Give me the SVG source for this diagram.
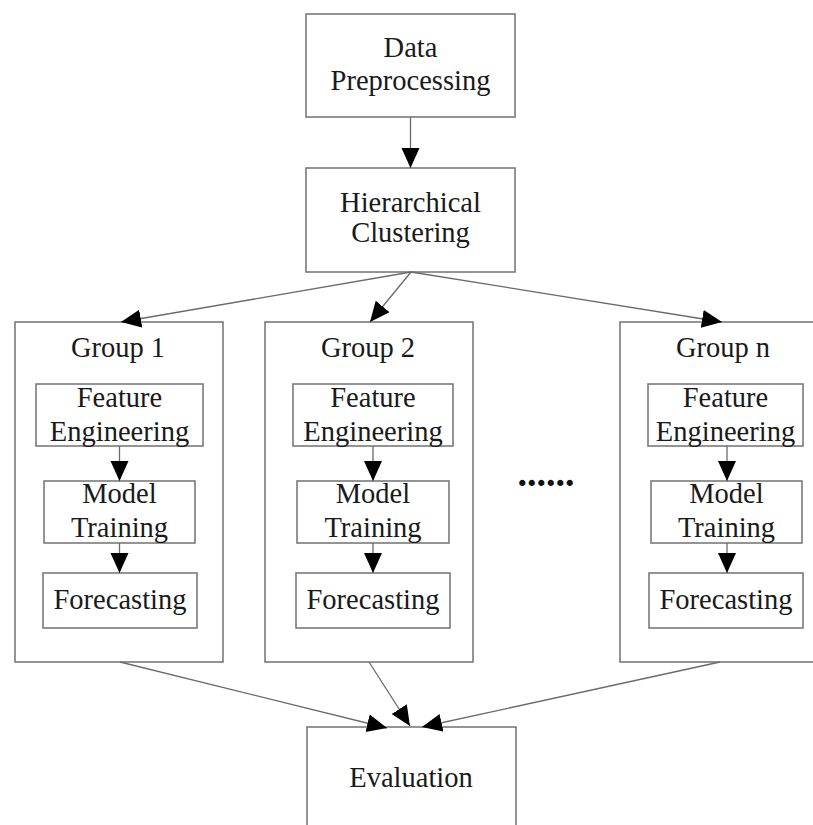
<svg xmlns="http://www.w3.org/2000/svg" width="813" height="825" viewBox="0 0 813 825">
<style>
.box{fill:#fff;stroke:#7a7a7a;stroke-width:1.6}
.t{font-family:"Liberation Serif","Times New Roman",serif;font-size:28.5px;fill:#1a1a1a;text-anchor:middle}
.c{fill:none;stroke:#6a6a6a;stroke-width:1.3}
</style>
<defs>
<marker id="ah" markerUnits="userSpaceOnUse" markerWidth="22" markerHeight="20" refX="20" refY="9" orient="auto">
<path d="M0,0 L20,9 L0,18 Z" fill="#000"/>
</marker>
</defs>
<rect width="813" height="825" fill="#fff"/>

<g id="preprocessing">
<rect class="box" x="306" y="14" width="209" height="103"/>
<text class="t" x="410.5" y="57">Data</text>
<text class="t" x="410.5" y="90">Preprocessing</text>
</g>

<g id="clustering">
<rect class="box" x="306" y="168" width="209" height="104"/>
<text class="t" x="410.5" y="212">Hierarchical</text>
<text class="t" x="410.5" y="242">Clustering</text>
</g>

<g id="group1">
<rect class="box" x="15" y="322" width="208" height="340"/>
<text class="t" x="118" y="357">Group 1</text>
<rect class="box" x="36" y="384" width="167" height="62"/>
<text class="t" x="119.5" y="407">Feature</text>
<text class="t" x="119.5" y="441">Engineering</text>
<rect class="box" x="44" y="481" width="151" height="62"/>
<text class="t" x="119.5" y="503">Model</text>
<text class="t" x="119.5" y="537">Training</text>
<rect class="box" x="43" y="573" width="154" height="55"/>
<text class="t" x="120" y="609">Forecasting</text>
</g>

<g id="group2">
<rect class="box" x="265" y="322" width="208" height="340"/>
<text class="t" x="368" y="357">Group 2</text>
<rect class="box" x="293" y="384" width="160" height="62"/>
<text class="t" x="373" y="407">Feature</text>
<text class="t" x="373" y="441">Engineering</text>
<rect class="box" x="297" y="481" width="152" height="62"/>
<text class="t" x="373" y="503">Model</text>
<text class="t" x="373" y="537">Training</text>
<rect class="box" x="296" y="573" width="154" height="55"/>
<text class="t" x="373" y="609">Forecasting</text>
</g>

<g id="groupn">
<rect class="box" x="620" y="322" width="200" height="340"/>
<text class="t" x="723" y="357">Group n</text>
<rect class="box" x="648" y="384" width="155" height="62"/>
<text class="t" x="725.5" y="407">Feature</text>
<text class="t" x="725.5" y="441">Engineering</text>
<rect class="box" x="651" y="481" width="151" height="62"/>
<text class="t" x="726.5" y="503">Model</text>
<text class="t" x="726.5" y="537">Training</text>
<rect class="box" x="649" y="573" width="154" height="55"/>
<text class="t" x="726" y="609">Forecasting</text>
</g>

<g id="ellipsis">
<text x="546" y="486" style="font-family:'Liberation Serif',serif;font-size:38px;font-weight:bold;fill:#111;text-anchor:middle">......</text>
</g>

<g id="evaluation">
<rect class="box" x="307" y="727" width="209" height="110"/>
<text class="t" x="411" y="787">Evaluation</text>
</g>

<g id="connectors">
<line class="c" x1="410.5" y1="117" x2="410.5" y2="168" marker-end="url(#ah)"/>
<line class="c" x1="411" y1="272" x2="121" y2="322" marker-end="url(#ah)"/>
<line class="c" x1="411" y1="272" x2="370" y2="322" marker-end="url(#ah)"/>
<line class="c" x1="411" y1="272" x2="722" y2="322" marker-end="url(#ah)"/>
<line class="c" x1="119.5" y1="446" x2="119.5" y2="481" marker-end="url(#ah)"/>
<line class="c" x1="119.5" y1="543" x2="119.5" y2="573" marker-end="url(#ah)"/>
<line class="c" x1="373" y1="446" x2="373" y2="481" marker-end="url(#ah)"/>
<line class="c" x1="373" y1="543" x2="373" y2="573" marker-end="url(#ah)"/>
<line class="c" x1="727" y1="446" x2="727" y2="481" marker-end="url(#ah)"/>
<line class="c" x1="727" y1="543" x2="727" y2="573" marker-end="url(#ah)"/>
<line class="c" x1="120" y1="662" x2="387" y2="728" marker-end="url(#ah)"/>
<line class="c" x1="369" y1="662" x2="410" y2="726" marker-end="url(#ah)"/>
<line class="c" x1="720" y1="662" x2="422" y2="727" marker-end="url(#ah)"/>
</g>
</svg>
